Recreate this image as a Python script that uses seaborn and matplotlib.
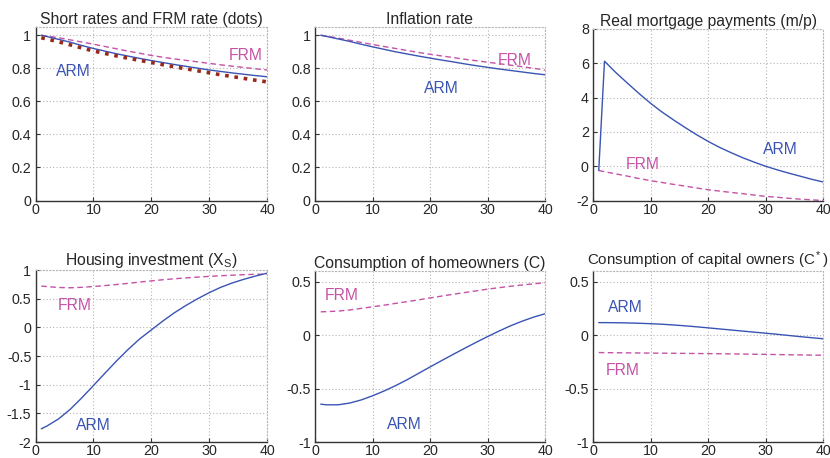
import numpy as np
import pandas as pd
import matplotlib
matplotlib.use("Agg")
import matplotlib.pyplot as plt
import seaborn as sns

# Impulse responses over 40 quarters, ARM vs FRM economies
periods = [1, 2, 4, 6, 8, 10, 12, 14, 16, 18, 20, 22, 24, 26, 28, 30, 32, 34, 36, 38, 40]

short_rate_arm = [1.0, 0.992, 0.975, 0.958, 0.938, 0.92, 0.904, 0.888, 0.874, 0.86, 0.847,
                  0.835, 0.823, 0.812, 0.801, 0.79, 0.781, 0.772, 0.764, 0.756, 0.749]
short_rate_frm = [1.0, 0.995, 0.985, 0.972, 0.959, 0.946, 0.932, 0.918, 0.904, 0.891, 0.878,
                  0.867, 0.857, 0.848, 0.839, 0.83, 0.821, 0.813, 0.805, 0.797, 0.79]
frm_rate = [0.985, 0.977, 0.96, 0.942, 0.923, 0.905, 0.89, 0.875, 0.861, 0.848, 0.835,
            0.822, 0.809, 0.797, 0.785, 0.773, 0.761, 0.75, 0.739, 0.728, 0.718]

inflation_arm = [1.0, 0.993, 0.978, 0.963, 0.946, 0.93, 0.915, 0.9, 0.887, 0.874, 0.862,
                 0.85, 0.839, 0.827, 0.816, 0.806, 0.796, 0.787, 0.778, 0.769, 0.761]
inflation_frm = [1.0, 0.995, 0.983, 0.97, 0.957, 0.944, 0.932, 0.92, 0.908, 0.896, 0.885,
                 0.875, 0.865, 0.855, 0.846, 0.837, 0.828, 0.819, 0.81, 0.8, 0.79]

payments_arm = [-0.25, 6.12, 5.45, 4.84, 4.24, 3.67, 3.16, 2.7, 2.26, 1.84, 1.45,
                1.1, 0.79, 0.5, 0.24, 0.0, -0.21, -0.4, -0.58, -0.76, -0.92]
payments_frm = [-0.25, -0.32, -0.45, -0.58, -0.72, -0.84, -0.95, -1.06, -1.16, -1.27, -1.37,
                -1.45, -1.53, -1.6, -1.68, -1.76, -1.81, -1.87, -1.92, -1.96, -2.0]

housing_arm = [-1.77, -1.72, -1.596, -1.43, -1.23, -1.016, -0.80, -0.586, -0.386, -0.202, -0.046,
               0.11, 0.254, 0.382, 0.498, 0.604, 0.698, 0.774, 0.838, 0.894, 0.944]
housing_frm = [0.72, 0.71, 0.695, 0.69, 0.698, 0.712, 0.728, 0.747, 0.767, 0.789, 0.81,
               0.83, 0.847, 0.862, 0.876, 0.889, 0.9, 0.91, 0.918, 0.925, 0.93]

cons_home_arm = [-0.646, -0.652, -0.652, -0.636, -0.607, -0.568, -0.523, -0.473, -0.418, -0.358, -0.298,
                 -0.239, -0.181, -0.124, -0.068, -0.014, 0.038, 0.087, 0.13, 0.168, 0.2]
cons_home_frm = [0.218, 0.22, 0.225, 0.235, 0.25, 0.265, 0.28, 0.297, 0.313, 0.33, 0.348,
                 0.365, 0.382, 0.398, 0.414, 0.43, 0.444, 0.457, 0.469, 0.48, 0.49]

cons_cap_arm = [0.117, 0.117, 0.116, 0.114, 0.111, 0.107, 0.102, 0.095, 0.087, 0.078, 0.068,
                0.058, 0.048, 0.038, 0.028, 0.018, 0.008, -0.003, -0.014, -0.024, -0.034]
cons_cap_frm = [-0.163, -0.164, -0.165, -0.166, -0.167, -0.168, -0.169, -0.17, -0.171, -0.172, -0.173,
                -0.174, -0.176, -0.177, -0.179, -0.18, -0.182, -0.184, -0.185, -0.187, -0.188]

titles = ["Short rates and FRM rate (dots)", "Inflation rate", "Real mortgage payments (m/p)",
          r"Housing investment (X$_\mathrm{S}$)", "Consumption of homeowners (C)",
          r"Consumption of capital owners (C$^*$)"]
x_ticks = [0, 10, 20, 30, 40]

sns.set_style("ticks")
plt.rcParams["font.family"] = ["Liberation Sans", "DejaVu Sans"]
plt.rcParams["mathtext.fontset"] = "custom"
plt.rcParams["mathtext.rm"] = "Liberation Sans"
plt.rcParams["mathtext.it"] = "Liberation Sans"

ARM_C = "#3a54b4"
FRM_C = "#c552a6"
DOT_C = "#992818"
TXT = "#262626"

fig = plt.figure(figsize=(8.3, 4.58), dpi=100)

W, H = 830, 458
def px_axes(l, r, t, b):
    return fig.add_axes([l / W, 1 - b / H, (r - l) / W, (b - t) / H])

axes = [
    px_axes(35.5, 267, 27, 200.5),
    px_axes(315, 545, 27, 200.5),
    px_axes(593, 823, 29, 200.5),
    px_axes(35.5, 267, 270, 442),
    px_axes(315, 545, 271, 442),
    px_axes(593, 823, 271, 442),
]

panels = [
    (short_rate_arm, short_rate_frm, (0, 1.05), [0, 0.2, 0.4, 0.6, 0.8, 1]),
    (inflation_arm, inflation_frm, (0, 1.05), [0, 0.2, 0.4, 0.6, 0.8, 1]),
    (payments_arm, payments_frm, (-2, 8), [-2, 0, 2, 4, 6, 8]),
    (housing_arm, housing_frm, (-2, 1), [-2, -1.5, -1, -0.5, 0, 0.5, 1]),
    (cons_home_arm, cons_home_frm, (-1, 0.6), [-1, -0.5, 0, 0.5]),
    (cons_cap_arm, cons_cap_frm, (-1, 0.6), [-1, -0.5, 0, 0.5]),
]
title_sizes = [11.3, 11.3, 11.3, 11.3, 11.3, 10.9]

# label positions (data coordinates) for the ARM / FRM annotations
arm_pos = [(6.5, 0.78), (22, 0.68), (32.5, 1.0), (10, -1.71), (15.6, -0.84), (5.7, 0.255)]
frm_pos = [(36.4, 0.88), (34.8, 0.85), (8.6, 0.1), (6.7, 0.38), (4.7, 0.37), (5.2, -0.33)]

for i, (ax, (arm, frm, ylim, yt)) in enumerate(zip(axes, panels)):
    sns.lineplot(x=periods, y=frm, ax=ax, color=FRM_C, linewidth=1.0)
    ax.lines[-1].set_dashes((4, 2.5))
    sns.lineplot(x=periods, y=arm, ax=ax, color=ARM_C, linewidth=1.0)
    if i == 0:
        sns.lineplot(x=periods, y=frm_rate, ax=ax, color=DOT_C, linewidth=2.6)
        ax.lines[-1].set_dashes((1.0, 1.6))
    ax.set_xlim(0, 40)
    ax.set_ylim(*ylim)
    ax.set_xticks(x_ticks)
    ax.set_yticks(yt)
    ax.xaxis.set_major_formatter(matplotlib.ticker.FormatStrFormatter("%g"))
    ax.yaxis.set_major_formatter(matplotlib.ticker.FormatStrFormatter("%g"))
    ax.grid(True, linestyle=(0, (1, 2)), color="#b5b5b5", linewidth=0.8)
    ax.set_axisbelow(True)
    for side in ("top", "right"):
        ax.spines[side].set_visible(True)
        ax.spines[side].set_linestyle((0, (1, 2)))
        ax.spines[side].set_color("#b5b5b5")
        ax.spines[side].set_linewidth(0.8)
    for side in ("left", "bottom"):
        ax.spines[side].set_color("#333333")
        ax.spines[side].set_linewidth(1.0)
    ax.tick_params(direction="in", length=3, width=0.8, labelsize=10.3, colors="#333333",
                   labelcolor=TXT, top=False, right=False)
    ax.tick_params(axis="x", pad=1.5)
    ax.tick_params(axis="y", pad=3)
    ax.set_title(titles[i], fontsize=title_sizes[i], color=TXT, pad=1.5)
    ax.text(*arm_pos[i], "ARM", color=ARM_C, fontsize=11.3, ha="center", va="center")
    ax.text(*frm_pos[i], "FRM", color=FRM_C, fontsize=11.3, ha="center", va="center")

fig.savefig("out.png", dpi=100)
